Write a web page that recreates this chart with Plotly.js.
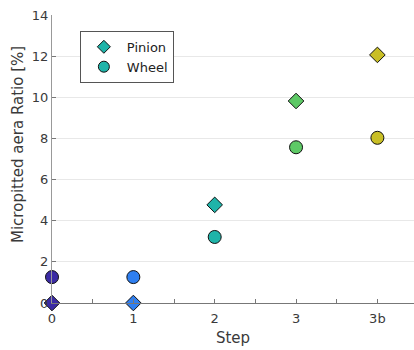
<!DOCTYPE html>
<html>
<head>
<meta charset="utf-8">
<script src="https://cdn.plot.ly/plotly-3.0.1.min.js"></script>
<style>
  html, body { margin: 0; padding: 0; background: #fff; }
  #chart { width: 414px; height: 350px; }
</style>
</head>
<body>
<div id="chart"></div>
<script>
// Test steps (x position index) and their labels
const steps = [0, 1, 2, 3, 4];
const stepLabels = ['0', '1', '2', '3', '3b'];

// Micropitted area ratio [%] per step
const pinion = [0, 0, 4.77, 9.82, 12.06];
const wheel = [1.26, 1.26, 3.21, 7.57, 8.03];

// One colour per step (parula-like ramp)
const stepColors = ['#3b2ba4', '#2f7ff0', '#1fb4a9', '#5ec966', '#c9bf26'];
const legendColor = '#1fb4a9';

const font = "DejaVu Sans, Verdana, sans-serif";
const textColor = '#3a3a3a';
const outline = { color: '#111', width: 1 };

const traces = [
  {
    x: steps, y: pinion, type: 'scatter', mode: 'markers', name: 'Pinion',
    showlegend: false, cliponaxis: false,
    marker: { symbol: 'diamond', size: 12, color: stepColors, line: outline }
  },
  {
    x: steps, y: wheel, type: 'scatter', mode: 'markers', name: 'Wheel',
    showlegend: false, cliponaxis: false,
    marker: { symbol: 'circle', size: 13, color: stepColors, line: outline }
  },
  // legend entries in a single colour
  {
    x: [null], y: [null], type: 'scatter', mode: 'markers', name: 'Pinion',
    marker: { symbol: 'diamond', size: 10, color: legendColor, line: outline }
  },
  {
    x: [null], y: [null], type: 'scatter', mode: 'markers', name: 'Wheel',
    marker: { symbol: 'circle', size: 11, color: legendColor, line: outline }
  }
];

const layout = {
  width: 414, height: 350,
  margin: { l: 52, r: 0, t: 15, b: 47 },
  paper_bgcolor: '#fff', plot_bgcolor: '#fff',
  font: { family: font, size: 13, color: textColor },
  showlegend: true,
  legend: {
    x: 0.077, y: 0.945, xanchor: 'left', yanchor: 'top',
    bgcolor: '#fff', bordercolor: '#555', borderwidth: 1,
    font: { family: font, size: 13, color: '#222' },
    itemwidth: 36, tracegroupgap: 0
  },
  xaxis: {
    range: [0, 4.45],
    tickmode: 'array', tickvals: steps, ticktext: stepLabels,
    ticks: 'inside', ticklen: 4, tickcolor: '#777',
    minor: { dtick: 0.5, tick0: 0, ticks: 'inside', ticklen: 4, tickcolor: '#777', showgrid: false },
    showline: true, linecolor: '#777', linewidth: 1,
    showgrid: false, zeroline: false,
    ticklabelstandoff: 3,
    tickfont: { family: font, size: 13, color: textColor },
    title: { text: 'Step', font: { family: font, size: 15, color: textColor }, standoff: 7 }
  },
  yaxis: {
    range: [0, 14], dtick: 2, tick0: 0,
    ticks: 'inside', ticklen: 4, tickcolor: '#777',
    showline: true, linecolor: '#999', linewidth: 1,
    showgrid: true, gridcolor: '#e8e8e8', gridwidth: 1,
    zeroline: false,
    tickfont: { family: font, size: 13, color: textColor }
  },
  annotations: [{
    text: 'Micropitted aera Ratio [%]',
    xref: 'paper', yref: 'paper', x: -0.094, y: 0.552,
    xanchor: 'center', yanchor: 'middle', textangle: -90,
    showarrow: false,
    font: { family: font, size: 15, color: textColor }
  }]
};

Plotly.newPlot('chart', traces, layout, { displayModeBar: false, staticPlot: true });
</script>
</body>
</html>
